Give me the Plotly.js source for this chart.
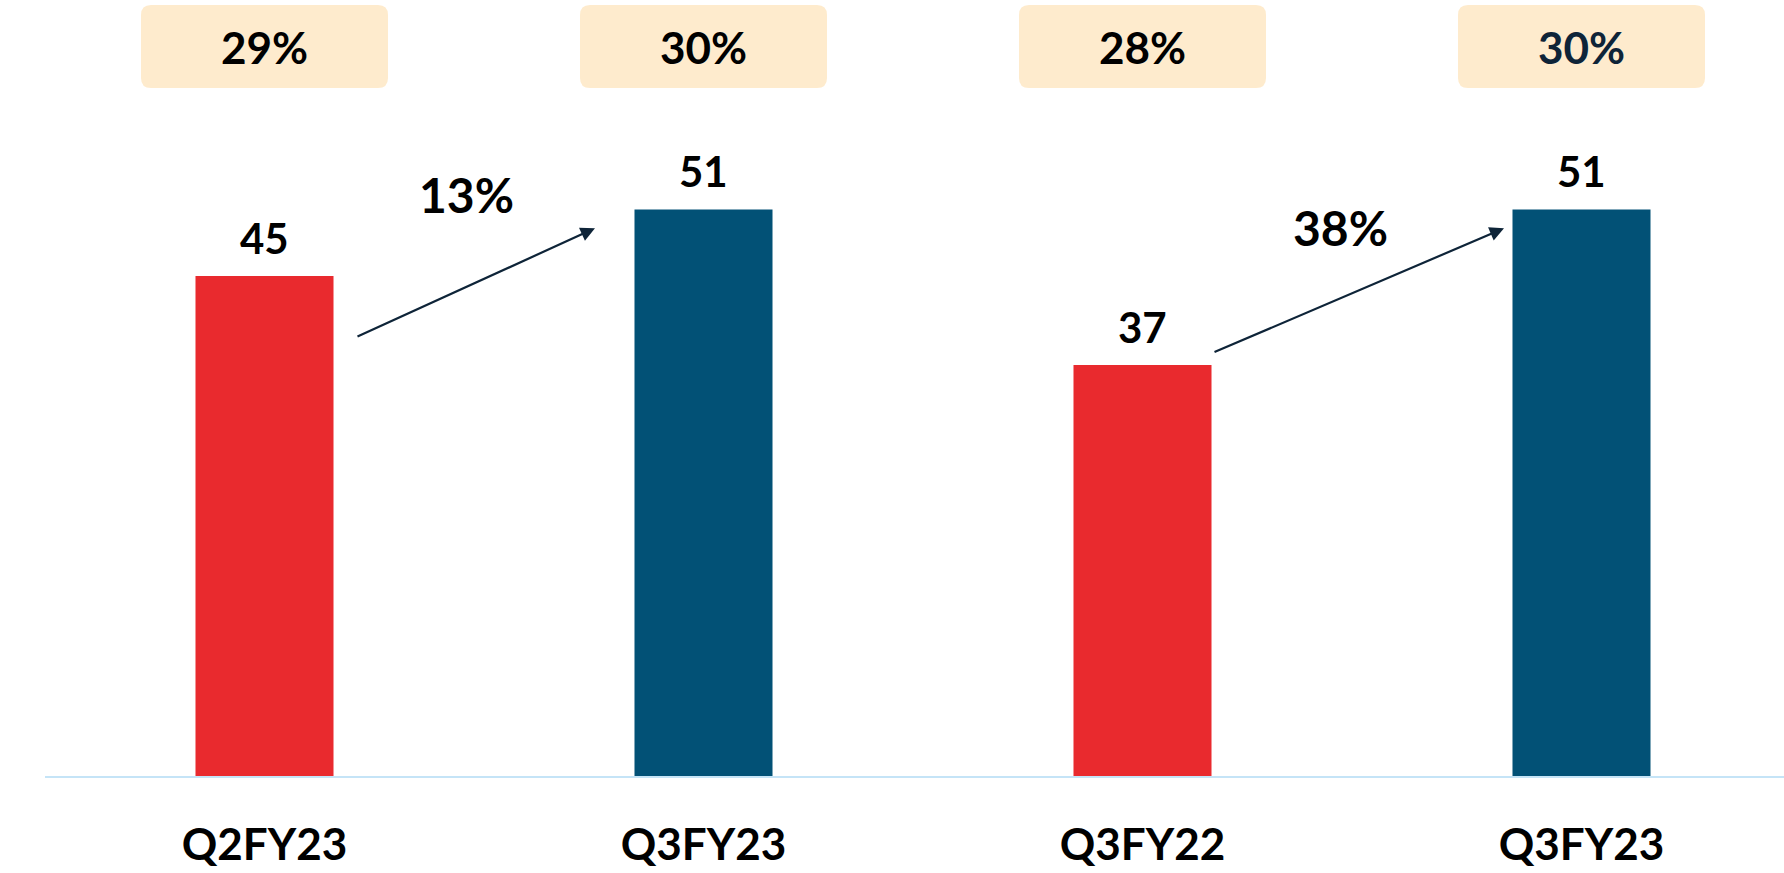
<!DOCTYPE html>
<html>
<head>
<meta charset="utf-8">
<script src="https://cdn.plot.ly/plotly-3.0.1.min.js"></script>
<style>html,body{margin:0;padding:0;background:#fff;}#chart{width:1784px;height:873px;}</style>
</head>
<body>
<div id="chart"></div>
<script>
// ---- data ----
const categories = ['Q2FY23', 'Q3FY23', 'Q3FY22', 'Q3FY23'];
const values = [45, 51, 37, 51];
const marginPct = ['29%', '30%', '28%', '30%'];
const growthLabels = ['13%', '38%'];

// ---- styling ----
const FONT = 'Lato, "Open Sans", sans-serif';
const RED = '#E92A2E', BLUE = '#025176', NAVY = '#0E2438';
const barColors = values.map((v, i) => (i % 2 === 0 ? RED : BLUE));
const idx = categories.map((c, i) => i);

const plotW = 1739, plotH = 776;
const pxX = 439;         // px per category unit
const yMax = 69.85;

const annotations = [];
// value labels above bars
values.forEach((v, i) => {
  annotations.push({x: i, y: v, xref: 'x', yref: 'y', text: String(v), showarrow: false,
    yanchor: 'middle', yshift: 38, font: {family: FONT, size: 42, color: '#000', weight: 700}});
});
// margin boxes text
const boxTop = 5, boxBot = 88, boxHalfW = 123.5, rad = 10;
marginPct.forEach((t, i) => {
  annotations.push({x: i, y: 1 - ((boxTop + boxBot) / 2) / plotH, xref: 'x', yref: 'paper', text: t,
    showarrow: false, yanchor: 'middle', font: {family: FONT, size: 44, color: i === 3 ? NAVY : '#000', weight: 700}});
});
// growth arrows (layout decorations)
const arrowDefs = [
  {tail: [0.2084, 39.5], head: [0.7528, 49.3], label: [0.459, 52.3]},
  {tail: [2.1606, 38.1], head: [2.8235, 49.3], label: [2.452, 49.4]}
];
arrowDefs.forEach((a, k) => {
  annotations.push({x: a.head[0], y: a.head[1], ax: a.tail[0], ay: a.tail[1], xref: 'x', yref: 'y',
    axref: 'x', ayref: 'y', text: '', showarrow: true, arrowhead: 2, arrowsize: 1.3, arrowwidth: 2.2,
    arrowcolor: NAVY, standoff: 0});
  annotations.push({x: a.label[0], y: a.label[1], xref: 'x', yref: 'y', text: growthLabels[k], showarrow: false,
    yanchor: 'middle', font: {family: FONT, size: 48, color: '#000', weight: 700}});
});

// rounded rectangle shapes
const shapes = marginPct.map((t, i) => {
  const hw = boxHalfW / pxX, rx = rad / pxX, ry = rad / plotH;
  const x0 = i - hw, x1 = i + hw;
  const yT = 1 - boxTop / plotH, yB = 1 - boxBot / plotH;
  const path = `M${x0 + rx},${yT} L${x1 - rx},${yT} Q${x1},${yT} ${x1},${yT - ry} L${x1},${yB + ry} ` +
    `Q${x1},${yB} ${x1 - rx},${yB} L${x0 + rx},${yB} Q${x0},${yB} ${x0},${yB + ry} L${x0},${yT - ry} Q${x0},${yT} ${x0 + rx},${yT} Z`;
  return {type: 'path', xref: 'x', yref: 'paper', path: path, fillcolor: '#FEEBCD', line: {width: 0}, layer: 'below'};
});

const trace = {
  type: 'bar', x: idx, y: values, marker: {color: barColors, line: {width: 0}},
  hoverinfo: 'none', cliponaxis: false
};

const layout = {
  width: 1784, height: 873,
  margin: {l: 45, r: 0, t: 0, b: 97, pad: 0},
  paper_bgcolor: '#fff', plot_bgcolor: '#fff',
  showlegend: false,
  bargap: 0.6856,
  xaxis: {
    range: [-0.5, -0.5 + plotW / pxX], tickvals: idx, ticktext: categories,
    showline: true, linecolor: '#C5E4F7', linewidth: 2, showgrid: false, zeroline: false,
    ticks: 'outside', ticklen: 29, tickcolor: 'rgba(0,0,0,0)',
    tickfont: {family: FONT, size: 44, color: '#000', weight: 700}, fixedrange: true
  },
  yaxis: {range: [0, yMax], visible: false, showgrid: false, zeroline: false, fixedrange: true},
  annotations: annotations,
  shapes: shapes
};

Plotly.newPlot('chart', [trace], layout, {staticPlot: true, displayModeBar: false});
</script>
</body>
</html>
